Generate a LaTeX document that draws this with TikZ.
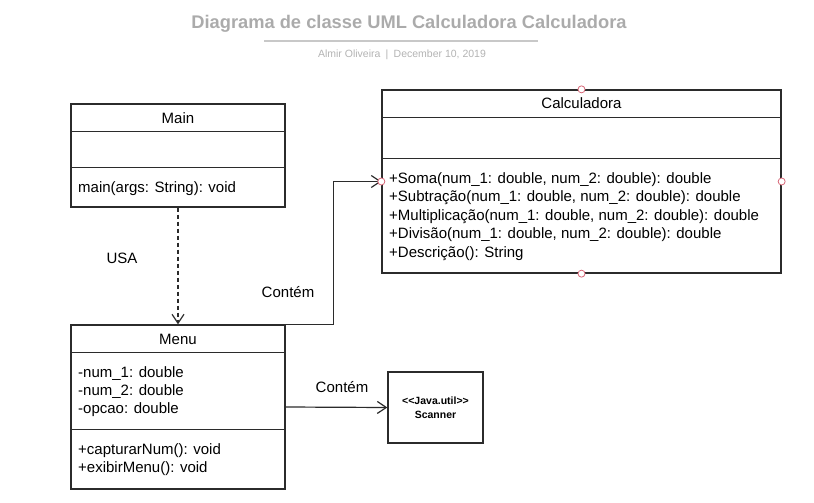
\documentclass[tikz,border=0pt]{standalone}
\usepackage{fontspec}
\setmainfont{Liberation Sans}
\newfontfamily\scanfont{Liberation Sans}
\usetikzlibrary{arrows.meta}
\definecolor{titlegray}{HTML}{ABABAB}
\definecolor{subgray}{HTML}{B3B3B3}
\definecolor{rulegray}{HTML}{C8C8C8}
\definecolor{linegray}{HTML}{2B2B2B}
\definecolor{portred}{HTML}{D86A7A}
\tikzset{
  classbox/.style={draw=linegray, line width=1.3pt, inner sep=0pt},
  divider/.style={draw=linegray, line width=1.3pt},
  header/.style={inner sep=0pt, font=\fontsize{15}{18}\selectfont},
  member/.style={anchor=base west, inner sep=0pt, font=\fontsize{15}{18}\selectfont},
  link/.style={draw=linegray, line width=1.2pt, -{Straight Barb[length=9pt,width=12pt]}},
  linklabel/.style={inner sep=0pt, font=\fontsize{15}{18}\selectfont},
  port/.style={circle, draw=portred, fill=white, line width=0.8pt, inner sep=0pt, minimum size=7pt}
}
\begin{document}
\begin{tikzpicture}[x=1pt, y=-1pt]
	\useasboundingbox (0,0) rectangle (814,503);
	% title
	\node[inner sep=0pt, text=titlegray, font=\fontsize{18.3}{22}\selectfont\bfseries] (title) at (409,24) {Diagrama de classe UML Calculadora Calculadora};
	\draw[rulegray, line width=1.2pt] (264,41) -- (538,41);
	\node[inner sep=0pt, text=subgray, font=\fontsize{10.5}{12}\selectfont] (byline) at (402,55) {Almir Oliveira\enspace|\enspace December 10, 2019};
	
	% Main
	\node[classbox, minimum width=214pt, minimum height=103pt] (main) at (178,155.5) {};
	\draw[divider] (main.north west) ++(0,28) -- ++(214,0);
	\draw[divider] (main.north west) ++(0,64) -- ++(214,0);
	\node[header] (mainname) at (178,118) {Main};
	\node[member] (mainop) at (78,192) {main(args: String): void};
	
	% Menu
	\node[classbox, minimum width=214pt, minimum height=164pt] (menu) at (178,407) {};
	\draw[divider] (menu.north west) ++(0,28) -- ++(214,0);
	\draw[divider] (menu.north west) ++(0,105) -- ++(214,0);
	\node[header] (menuname) at (178,339) {Menu};
	\foreach \t [count=\i] in {-num\_1: double, -num\_2: double, -opcao: double}
		\node[member] (menuattr\i) at (78,{358.7+18.3*\i}) {\t};
	\foreach \t [count=\i] in {+capturarNum(): void, +exibirMenu(): void}
		\node[member] (menuop\i) at (78,{435.7+18.3*\i}) {\t};
	
	% Calculadora
	\node[classbox, minimum width=399pt, minimum height=183pt] (calc) at (581.5,181.5) {};
	\draw[divider] (calc.north west) ++(0,28) -- ++(399,0);
	\draw[divider] (calc.north west) ++(0,69) -- ++(399,0);
	\node[header] (calcname) at (581.5,103.5) {Calculadora};
	\foreach \t [count=\i] in {
		{+Soma(num\_1: double, num\_2: double): double},
		{+Subtração(num\_1: double, num\_2: double): double},
		{+Multiplicação(num\_1: double, num\_2: double): double},
		{+Divisão(num\_1: double, num\_2: double): double},
		{+Descrição(): String}}
		\node[member] (calcop\i) at (389,{164.5+18.5*\i}) {\t};
	
	% Scanner
	\node[classbox, minimum width=95pt, minimum height=71pt, align=center,
		font=\scanfont\fontsize{10.5}{14}\selectfont\bfseries] (scanner) at (435.5,407.5) {<<Java.util>>\\Scanner};
	
	% connectors
	\draw[link, dash pattern=on 4pt off 3pt] (main.south) -- (menu.north);
	\node[linklabel] (usa) at (122,258) {USA};
	\draw[link] (menu.north east) -- ++(48,0) |- (calc.west);
	\node[linklabel] (contem1) at (288,292) {Contém};
	\draw[link] (menu.east) -- (scanner.west);
	\node[linklabel] (contem2) at (342,387) {Contém};
	
	% ports
	\foreach \a in {north, south, west, east}
		\node[port] (port-\a) at (calc.\a) {};
\end{tikzpicture}
\end{document}
